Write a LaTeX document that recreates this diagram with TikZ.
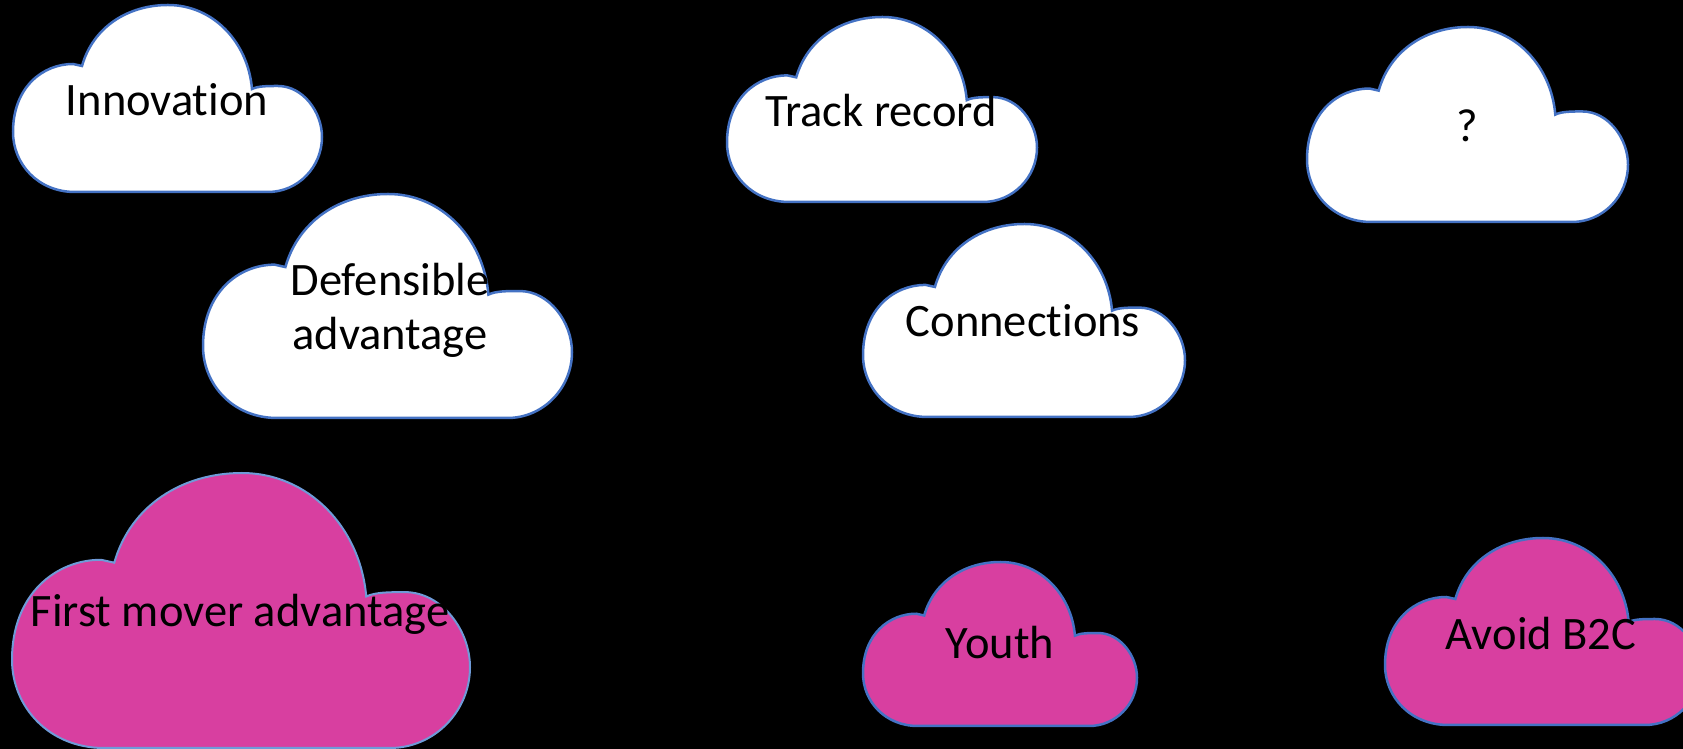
\documentclass[tikz,border=0pt]{standalone}
\usepackage{fontspec}
\setmainfont{Carlito}[Ligatures=CommonOff]
\definecolor{cloudblue}{HTML}{4472C4}
\definecolor{lightblue}{HTML}{6F9BD8}
\definecolor{cloudpink}{HTML}{D83FA0}
\tikzset{
  whitecloud/.style={draw=cloudblue, line width=2.5pt, fill=white},
  pinkcloud/.style={draw=cloudblue, line width=2.5pt, fill=cloudpink},
  pinkcloudlight/.style={draw=lightblue, line width=2pt, fill=cloudpink},
  label/.style={inner sep=0pt, anchor=base, text=black, font=\fontsize{46.5}{54}\selectfont},
}
% #1 left, #2 top, #3 right, #4 bottom (image pixels, y downwards), #5 style
\newcommand\cloudat[5]{%
  \begin{scope}[shift={(#1,749-#4)}, xscale={(#3-#1)/309}, yscale={(#4-#2)/187}]
    \draw[#5] (62,0) .. controls (25,0) and (0,28) .. (0,60)
      .. controls (0,105) and (30,128) .. (60,128)
      -- (69,126)
      .. controls (80,165) and (115,187) .. (155,187)
      .. controls (200,187) and (235,150) .. (239,103)
      .. controls (245,106) and (255,106) .. (265,106)
      .. controls (290,106) and (309,80) .. (309,55)
      .. controls (309,25) and (285,0) .. (255,0)
      -- cycle;
  \end{scope}}
\begin{document}
\begin{tikzpicture}[x=1pt, y=1pt]
  \useasboundingbox (0,0) rectangle (1683,749);
  \fill[black] (0,0) rectangle (1683,749);
  \clip (0,0) rectangle (1683,749);
  % white clouds
  \cloudat{13}{5}{322}{192}{whitecloud}
  \cloudat{727}{17}{1037}{202}{whitecloud}
  \cloudat{1307}{27}{1628}{222}{whitecloud}
  \cloudat{203}{194}{572}{418}{whitecloud}
  \cloudat{863}{224}{1185}{417}{whitecloud}
  % pink clouds
  \cloudat{12}{473}{470}{748}{pinkcloudlight}
  \cloudat{863}{562}{1137}{726}{pinkcloud}
  \cloudat{1385}{538}{1700}{725}{pinkcloud}
  % labels
  \node[label] (innovation) at (167,749-116) {Innovation};
  \node[label] (track) at (881,749-127) {Track record};
  \node[label] (question) at (1467,749-142) {?};
  \node[label, align=center] (defensible) at (390,749-350) {Defensible\\advantage};
  \node[label] (connections) at (1023,749-337) {Connections};
  \node[label] (firstmover) at (240,749-627) {First mover advantage};
  \node[label] (youth) at (1000,749-659) {Youth};
  \node[label] (avoid) at (1541,749-650) {Avoid B2C};
\end{tikzpicture}
\end{document}
